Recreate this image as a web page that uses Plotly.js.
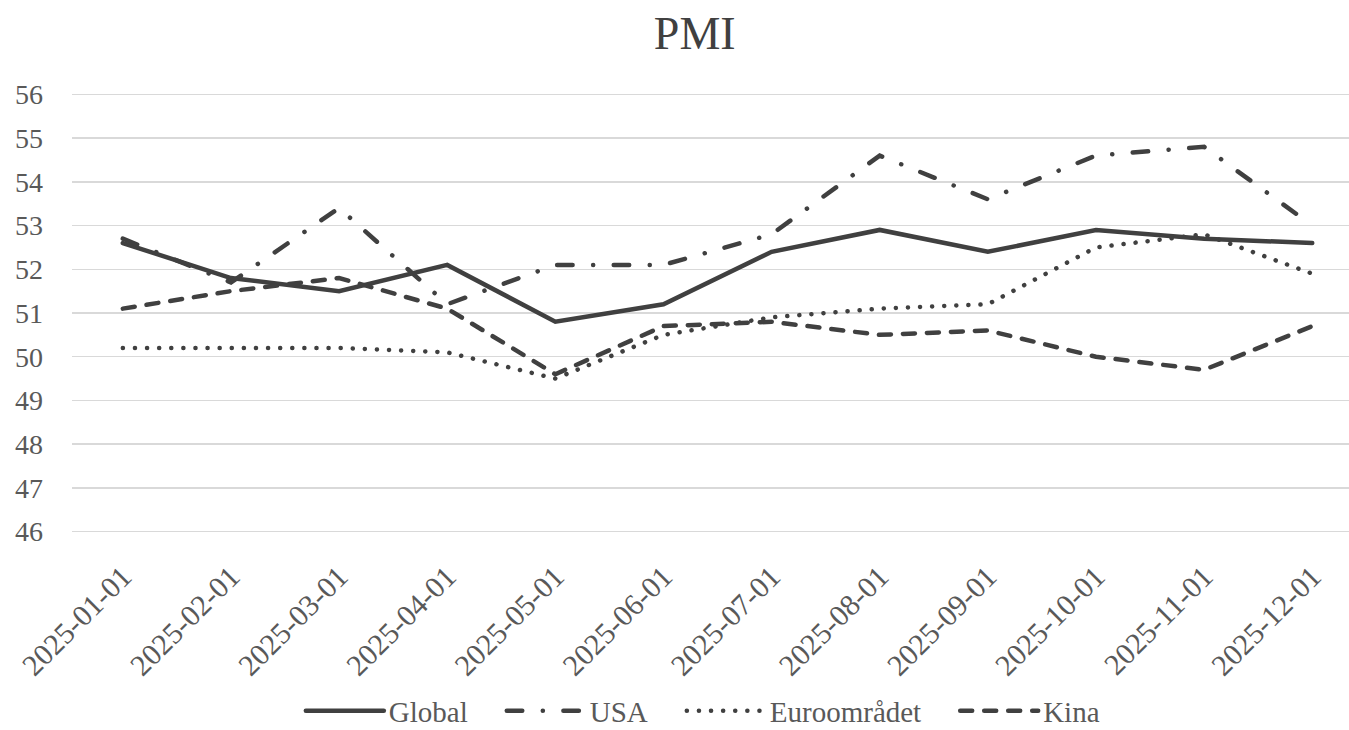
<!DOCTYPE html>
<html>
<head>
<meta charset="utf-8">
<script src="https://cdn.plot.ly/plotly-3.0.1.min.js"></script>
<style>html,body{margin:0;padding:0;background:#fff;}#chart{width:1349px;height:730px;}
#chart path.js-line{stroke-linecap:round !important;}</style>
</head>
<body>
<div id="chart"></div>
<script>
const categories = ["2025-01-01","2025-02-01","2025-03-01","2025-04-01","2025-05-01","2025-06-01","2025-07-01","2025-08-01","2025-09-01","2025-10-01","2025-11-01","2025-12-01"];
const globalVals = [52.6, 51.8, 51.5, 52.1, 50.8, 51.2, 52.4, 52.9, 52.4, 52.9, 52.7, 52.6];
const usaVals    = [52.7, 51.7, 53.4, 51.2, 52.1, 52.1, 52.8, 54.6, 53.6, 54.6, 54.8, 53.0];
const euroVals   = [50.2, 50.2, 50.2, 50.1, 49.5, 50.5, 50.9, 51.1, 51.2, 52.5, 52.8, 51.9];
const kinaVals   = [51.1, 51.5, 51.8, 51.1, 49.6, 50.7, 50.8, 50.5, 50.6, 50.0, 49.7, 50.7];
const seriesNames = ["Global", "USA", "Euroområdet", "Kina"];
const yTicks = [46, 47, 48, 49, 50, 51, 52, 53, 54, 55, 56];

const lineColor = "#404040";
const fontFam = "Liberation Serif, DejaVu Serif, serif";
const pad = "\u00a0\u00a0\u00a0\u00a0";
const mk = (name, y, dash, last) => ({
  type: "scatter", mode: "lines", name: last ? name : name + pad, x: categories, y: y,
  line: {color: lineColor, width: 4.5, dash: dash},
  hoverinfo: "skip"
});
const data = [
  mk(seriesNames[0], globalVals, "solid"),
  mk(seriesNames[1], usaVals, "15.5px,20.5px,0.1px,20.5px"),
  mk(seriesNames[2], euroVals, "0.1px,12px"),
  mk(seriesNames[3], kinaVals, "12px,12px", true)
];
const layout = {
  width: 1349, height: 730,
  margin: {l: 72, r: 0, t: 90, b: 194, autoexpand: false},
  paper_bgcolor: "#fff", plot_bgcolor: "#fff",
  font: {family: fontFam, color: "#595959", size: 28},
  title: {text: "PMI", x: 0.515, xanchor: "center", y: 0.955, yanchor: "middle", yref: "container",
          font: {family: fontFam, size: 46, color: "#404040"}},
  xaxis: {type: "category", range: [-0.47, 11.34], showgrid: false, zeroline: false, automargin: false,
          showline: false, ticks: "", tickangle: -45, ticklabelstandoff: 16,
          tickfont: {size: 30, color: "#595959"}},
  yaxis: {range: [45.9, 56.1], tickvals: yTicks, showgrid: true, gridcolor: "#d9d9d9", gridwidth: 1.5,
          zeroline: false, showline: false, ticks: "", ticklabelstandoff: 28, automargin: false,
          tickfont: {size: 28, color: "#595959"}},
  showlegend: true,
  legend: {orientation: "h", x: 0.494, xanchor: "center", y: -0.392, yanchor: "middle",
           font: {size: 29, color: "#595959"}, itemwidth: 78, traceorder: "normal"}
};
Plotly.newPlot("chart", data, layout, {staticPlot: true});
</script>
</body>
</html>
